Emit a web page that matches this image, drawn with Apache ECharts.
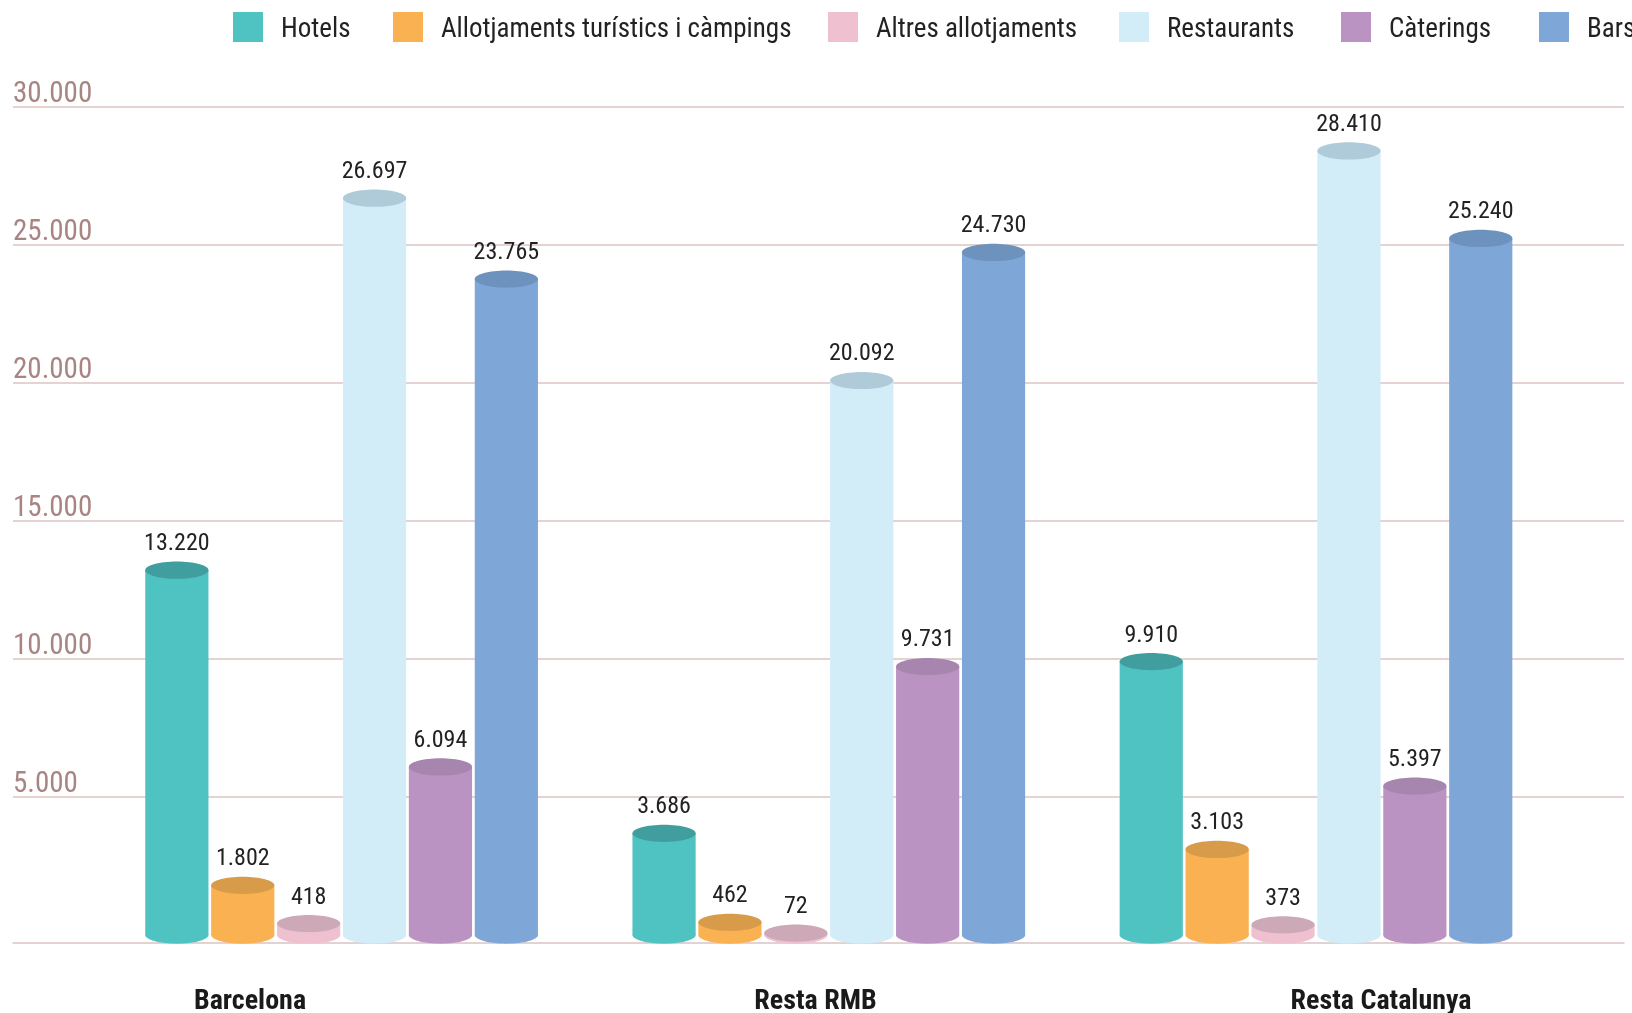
<!DOCTYPE html>
<html>
<head>
<meta charset="utf-8">
<script src="https://cdn.jsdelivr.net/npm/echarts@6/dist/echarts.min.js"></script>
<style>
html,body{margin:0;padding:0;background:#fff;}
#chart{width:1632px;height:1013px;}
</style>
</head>
<body>
<div id="chart"></div>
<script>
// ---- data ----
const categories = ['Barcelona', 'Resta RMB', 'Resta Catalunya'];
const seriesNames = ['Hotels', 'Allotjaments turístics i càmpings', 'Altres allotjaments', 'Restaurants', 'Càterings', 'Bars'];
const hotels = [13220, 3686, 9910];
const allotjaments = [1802, 462, 3103];
const altres = [418, 72, 373];
const restaurants = [26697, 20092, 28410];
const caterings = [6094, 9731, 5397];
const bars = [23765, 24730, 25240];
const yTicks = [0, 5000, 10000, 15000, 20000, 25000, 30000];

// ---- style ----
const FONT = '"Roboto Condensed", "Fira Sans Condensed", "DejaVu Sans Condensed", sans-serif';
const bodyColors = ['#4fc2c2', '#f9b152', '#efc1d0', '#d2edf8', '#ba93c3', '#7ea7d8'];
const topColors = ['#419e9f', '#d89b4a', '#cda9b8', '#afcad8', '#a686ae', '#6d92bd'];
const legendLefts = [233, 393, 828, 1119, 1341, 1539];
const PITCH = 65.9, RX = 31.6, RY = 8.6;
const GRID_TOP = 107, GRID_BOTTOM = 77.9;

const allValues = [hotels, allotjaments, altres, restaurants, caterings, bars];
const fmt = v => String(v).replace(/\B(?=(\d{3})+(?!\d))/g, '.');

function makeRenderItem(s) {
  return function (params, api) {
    const cat = api.value(0), val = api.value(1);
    const top = api.coord([cat, val]);
    const base = api.coord([cat, 0]);
    const cx = top[0] + (s - 2.5) * PITCH;
    return {
      type: 'group',
      children: [
        { type: 'ellipse', shape: { cx: cx, cy: base[1], rx: RX, ry: RY }, style: { fill: bodyColors[s] } },
        { type: 'rect', shape: { x: cx - RX, y: top[1], width: 2 * RX, height: base[1] - top[1] }, style: { fill: bodyColors[s] } },
        { type: 'ellipse', shape: { cx: cx, cy: top[1], rx: RX, ry: RY }, style: { fill: topColors[s] } },
        { type: 'text', style: { text: fmt(val), x: cx, y: top[1] - 26, align: 'center', verticalAlign: 'middle',
            fontSize: 24, fontFamily: FONT, fill: '#222' } }
      ]
    };
  };
}

const series = seriesNames.map((name, s) => ({
  name: name,
  type: 'custom',
  xAxisIndex: 1,
  yAxisIndex: 1,
  itemStyle: { color: bodyColors[s] },
  encode: { x: 0, y: 1 },
  data: allValues[s].map((v, i) => [i, v]),
  renderItem: makeRenderItem(s)
}));

const legends = seriesNames.map((name, s) => ({
  data: [name],
  left: legendLefts[s],
  top: 12,
  padding: 0,
  itemWidth: 30,
  itemHeight: 30,
  icon: 'rect',
  itemGap: 0,
  formatter: '{t|{name}}',
  textStyle: {
    fontSize: 27, fontFamily: FONT, color: '#222',
    rich: { t: { fontSize: 27, fontFamily: FONT, color: '#222', padding: [7, 0, 0, 13] } }
  }
}));

const chart = echarts.init(document.getElementById('chart'), null, { renderer: 'canvas' });
chart.setOption({
  backgroundColor: '#ffffff',
  animation: false,
  legend: legends,
  grid: [
    { left: 13, right: 8, top: GRID_TOP, bottom: GRID_BOTTOM, outerBoundsMode: 'none' },
    { left: 98, right: 72.4, top: GRID_TOP, bottom: GRID_BOTTOM, outerBoundsMode: 'none' },
    { left: 250, right: 251, top: GRID_TOP, bottom: 70.3, outerBoundsMode: 'none' }
  ],
  xAxis: [
    { gridIndex: 0, type: 'category', data: categories, position: 'bottom', offset: 7.6,
      axisLine: { show: true, onZero: false, lineStyle: { color: '#dcc4c3', width: 1.5 } },
      axisTick: { show: false }, axisLabel: { show: false }, splitLine: { show: false } },
    { gridIndex: 1, type: 'category', data: categories, show: false, boundaryGap: true },
    { gridIndex: 2, type: 'category', data: categories, boundaryGap: false,
      axisLine: { show: false }, axisTick: { show: false }, splitLine: { show: false },
      axisLabel: { margin: 45, fontSize: 28, fontWeight: 'bold', fontFamily: FONT, color: '#1a1a1a' } }
  ],
  yAxis: [
    { gridIndex: 0, type: 'value', min: yTicks[0], max: yTicks[yTicks.length - 1], interval: yTicks[1] - yTicks[0],
      axisLine: { show: false }, axisTick: { show: false },
      splitLine: { show: true, showMinLine: false, lineStyle: { color: '#dcc4c3', width: 1.5 } },
      axisLabel: { inside: true, margin: 0, align: 'left', verticalAlign: 'bottom', showMinLabel: false, lineHeight: 24,
        fontSize: 29, fontFamily: FONT, color: '#a88483', formatter: v => fmt(v) } },
    { gridIndex: 1, type: 'value', min: yTicks[0], max: yTicks[yTicks.length - 1], show: false },
    { gridIndex: 2, type: 'value', min: 0, max: 1, show: false, splitLine: { show: false } }
  ],
  series: series
});
</script>
</body>
</html>
